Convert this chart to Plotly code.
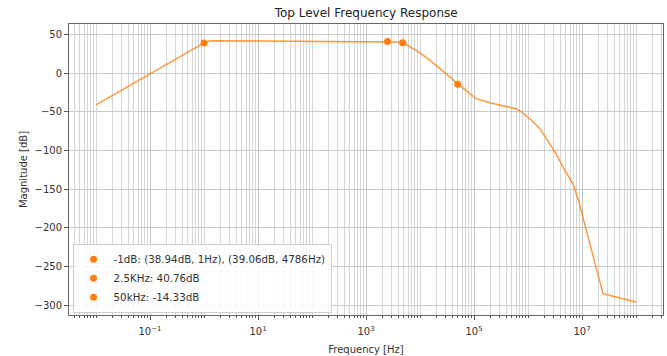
import plotly.graph_objects as go

freq_hz = [0.01, 0.0316, 0.1, 0.316, 1.0, 1.26, 1.58, 10, 100, 1000, 2500, 3550, 4786,
           6300, 8500, 14800, 30200, 50000, 83000, 110000, 195000, 355000, 600000,
           760000, 1.12e6, 1.66e6, 3.3e6, 4.5e6, 6.8e6, 8.5e6,
           2.45e7, 2.8e7, 1.0e8]
mag_db = [-41, -21, -1, 19, 38.9, 41.5, 41.8, 41.5, 41.2, 40.9, 40.76, 40.2, 39.06,
          34, 29.3, 17.3, -0.8, -14.33, -26.6, -33, -38.2, -42.5, -46,
          -50.3, -60, -71.8, -104, -122, -143, -163,
          -284.9, -285.8, -295.7]

# Annotated points
m1_freq = [1, 4786]
m1_mag = [38.94, 39.06]
m2_freq = [2500]
m2_mag = [40.76]
m3_freq = [50000]
m3_mag = [-14.33]

legend_labels = ["-1dB: (38.94dB, 1Hz), (39.06dB, 4786Hz)", "2.5KHz: 40.76dB", "50kHz: -14.33dB"]

x_tickvals = [0.1, 10, 1e3, 1e5, 1e7]
x_ticktext = ["10<sup>−1</sup>", "10<sup>1</sup>", "10<sup>3</sup>", "10<sup>5</sup>", "10<sup>7</sup>"]
y_tickvals = [50, 0, -50, -100, -150, -200, -250, -300]

ORANGE = "#ff7f0e"

fig = go.Figure()
fig.add_trace(go.Scatter(x=freq_hz, y=mag_db, mode="lines",
                         line=dict(color="rgba(255,127,14,0.8)", width=1.5),
                         showlegend=False, hoverinfo="skip"))
for fx, my, lab in [(m1_freq, m1_mag, legend_labels[0]),
                    (m2_freq, m2_mag, legend_labels[1]),
                    (m3_freq, m3_mag, legend_labels[2])]:
    fig.add_trace(go.Scatter(x=fx, y=my, mode="markers", name=lab,
                             marker=dict(color=ORANGE, size=7)))

fig.update_layout(
    width=667, height=356,
    margin=dict(l=69, r=4, t=24, b=41, autoexpand=False),
    paper_bgcolor="white", plot_bgcolor="white",
    font=dict(family="DejaVu Sans", size=10, color="#333"),
    title=dict(text="Top Level Frequency Response", x=0.549, xanchor="center",
               y=1 - 13 / 356, yanchor="middle", font=dict(size=12, color="#222")),
    legend=dict(x=0.006, y=0.008, xanchor="left", yanchor="bottom",
                bgcolor="rgba(255,255,255,0.85)", bordercolor="#d0d0d0", borderwidth=1,
                font=dict(size=10.3, color="#333"), itemwidth=30, tracegroupgap=0),
)
fig.update_xaxes(
    type="log", range=[-2.5, 8.5], automargin=False,
    tickmode="array", tickvals=x_tickvals, ticktext=x_ticktext,
    showgrid=True, gridcolor="#c4c4c4", gridwidth=1,
    ticks="outside", ticklen=4, tickcolor="#555", ticklabelstandoff=3,
    minor=dict(dtick="D1", showgrid=True, gridcolor="#d6d6d6", ticks="outside",
               ticklen=2, tickcolor="#555"),
    showline=True, linecolor="#666", linewidth=1, mirror=True,
    zeroline=False,
    title=dict(text="Frequency [Hz]", font=dict(size=10, color="#333"), standoff=9),
)
fig.update_yaxes(
    range=[-312.4, 63.4], automargin=False,
    tickmode="array", tickvals=y_tickvals,
    showgrid=True, gridcolor="#c8c8c8", gridwidth=1,
    ticks="outside", ticklen=4, tickcolor="#555",
    showline=True, linecolor="#666", linewidth=1, mirror=True,
    zeroline=False,
    title=dict(text="Magnitude [dB]", font=dict(size=10, color="#333"), standoff=5),
)

fig.write_html("out.html", config={"displayModeBar": False},
               post_script="document.body.style.margin='0';document.body.style.padding='0';")
